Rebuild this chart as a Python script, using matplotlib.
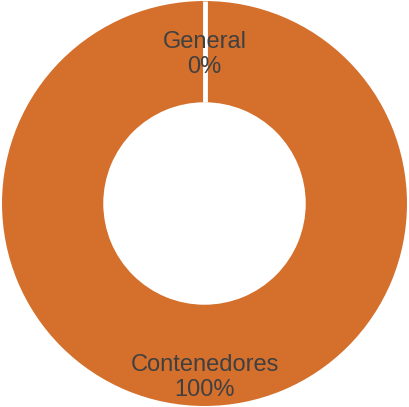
import numpy as np
import matplotlib.pyplot as plt

labels = ["General", "Contenedores"]
values = [0, 100]
pct = ["0%", "100%"]

color = "#D46F2C"
text_color = "#404040"

fig = plt.figure(figsize=(4.09, 4.07), dpi=100)
ax = fig.add_axes([0, 0, 1, 1])

wedges, _ = ax.pie(values, colors=[color, color], startangle=90, counterclock=False,
                   radius=1.0, wedgeprops=dict(width=0.5, edgecolor="white", linewidth=0))

# white separator at the boundary of the empty slice
theta = np.deg2rad(wedges[0].theta1)
ax.plot([0.5 * np.cos(theta), np.cos(theta)], [0.5 * np.sin(theta), np.sin(theta)],
        color="white", lw=3.5, solid_capstyle="butt")

# labels inside the ring
ax.text(0, 0.735, f"{labels[0]}\n{pct[0]}", ha="center", va="center",
        fontsize=17, color=text_color, family="Liberation Sans", linespacing=1.2)
ax.text(0, -0.86, f"{labels[1]}\n{pct[1]}", ha="center", va="center",
        fontsize=17, color=text_color, family="Liberation Sans", linespacing=1.2)

ax.set_xlim(-1.01, 1.01)
ax.set_ylim(-1.0, 1.0)
ax.set_aspect("equal")
ax.axis("off")

fig.savefig("out.png", dpi=100)
